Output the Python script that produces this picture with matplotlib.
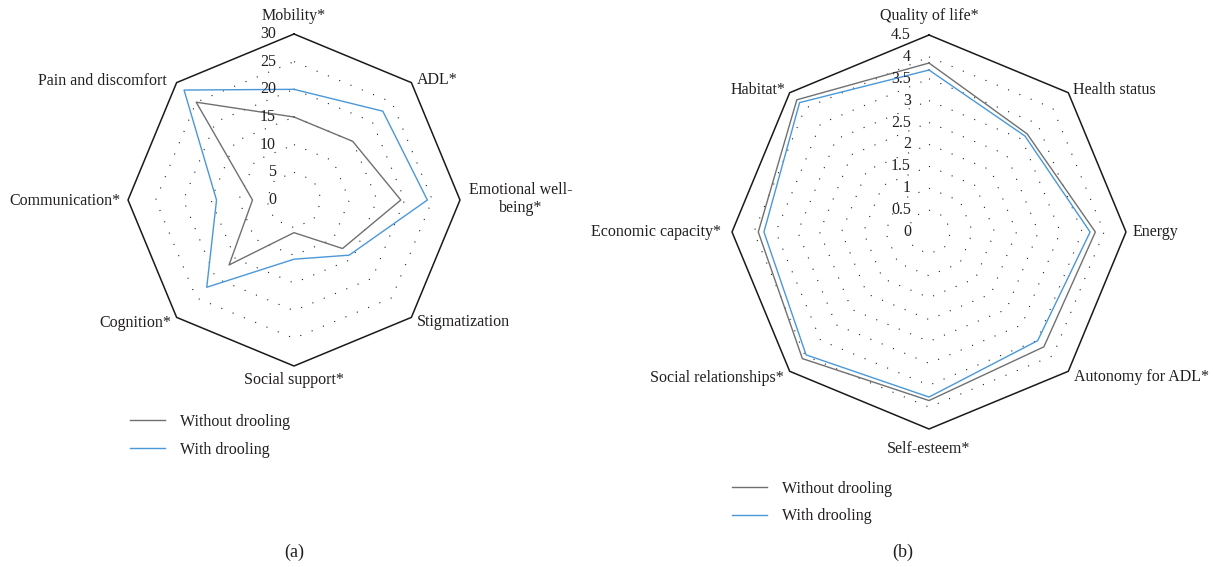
import numpy as np
import matplotlib
matplotlib.use('Agg')
import matplotlib.pyplot as plt

plt.rcParams['font.family'] = ['Liberation Serif', 'DejaVu Serif']
plt.rcParams['font.size'] = 11.5
plt.rcParams['text.color'] = '#231f20'

# (a) domains, clockwise from the top
labels_a = ['Mobility*', 'ADL*', 'Emotional well-\nbeing*', 'Stigmatization',
            'Social support*', 'Cognition*', 'Communication*', 'Pain and discomfort']
without_a = [15, 15, 19.3, 12.4, 5.9, 16.6, 7.5, 25]
with_a = [20, 22.7, 24.1, 14.1, 10.7, 22.3, 14, 28.1]
ticks_a = [0, 5, 10, 15, 20, 25, 30]

# (b) domains, clockwise from the top
labels_b = ['Quality of life*', 'Health status', 'Energy', 'Autonomy for ADL*',
            'Self-esteem*', 'Social relationships*', 'Economic capacity*', 'Habitat*']
without_b = [3.86, 3.17, 3.8, 3.71, 3.85, 4.09, 3.9, 4.27]
with_b = [3.70, 3.10, 3.68, 3.51, 3.77, 3.97, 3.77, 4.18]
ticks_b = [0, 0.5, 1, 1.5, 2, 2.5, 3, 3.5, 4, 4.5]

series_names = ['Without drooling', 'With drooling']
GRAY = '#707070'
BLUE = '#4a98d8'
W, H = 1213, 567


def xy(vals):
    vals = np.asarray(vals, dtype=float)
    th = np.arange(len(vals)) * 2 * np.pi / len(vals)
    x = vals * np.sin(th)
    y = vals * np.cos(th)
    return np.append(x, x[0]), np.append(y, y[0])


def radar(ax, labels, s1, s2, ticks, label_off):
    rmax = ticks[-1]
    n = len(labels)
    for t in ticks[1:-1]:
        x, y = xy([t] * n)
        ax.plot(x, y, color='#222222', lw=0.8, ls=(0, (1, 10)))
    x, y = xy([rmax] * n)
    ax.plot(x, y, color='#1a1a1a', lw=1.1)
    l1, = ax.plot(*xy(s1), color=GRAY, lw=1.0)
    l2, = ax.plot(*xy(s2), color=BLUE, lw=1.0)
    for t in ticks:
        ax.annotate(f'{t:g}', xy=(0, t), xytext=(-13, 0), textcoords='offset points',
                    ha='right', va='center')
    vx, vy = xy([rmax] * n)
    for i, lab in enumerate(labels):
        dx, dy, ha = label_off[i]
        ax.annotate(lab, xy=(vx[i], vy[i]), xytext=(dx * 0.72, dy * 0.72),
                    textcoords='offset points', ha=ha, va='center',
                    multialignment='center', linespacing=1.25)
    ax.axis('off')
    return l1, l2


def place_axes(fig, px0, px1, cx, cy, rpx, rmax):
    s = rpx / rmax
    ax = fig.add_axes([px0 / W, 0, (px1 - px0) / W, 1])
    ax.set_xlim((px0 - cx) / s, (px1 - cx) / s)
    ax.set_ylim((cy - H) / s, cy / s)
    return ax


fig = plt.figure(figsize=(W / 100, H / 100), dpi=100)

ax1 = place_axes(fig, 0, 600, 294, 200, 166, ticks_a[-1])
off_a = [(0, 18, 'center'), (5, 3, 'left'), (9, 1, 'left'), (5, -5, 'left'),
         (0, -14, 'center'), (-5, -6, 'right'), (-8, -1, 'right'), (-10, 2, 'right')]
h1 = radar(ax1, labels_a, without_a, with_a, ticks_a, off_a)
fig.legend(h1, series_names, loc='upper left', bbox_to_anchor=(130 / W, 1 - 414 / H),
           frameon=False, borderpad=0, borderaxespad=0, handlelength=2.2,
           handletextpad=0.9, labelspacing=0.72)

ax2 = place_axes(fig, 600, W, 929, 232, 197, ticks_b[-1])
off_b = [(0, 19, 'center'), (5, 3, 'left'), (7, 0, 'left'), (6, -6, 'left'),
         (0, -20, 'center'), (-6, -7, 'right'), (-11, 0, 'right'), (-4, 3, 'right')]
h2 = radar(ax2, labels_b, without_b, with_b, ticks_b, off_b)
fig.legend(h2, series_names, loc='upper left', bbox_to_anchor=(732 / W, 1 - 481 / H),
           frameon=False, borderpad=0, borderaxespad=0, handlelength=2.2,
           handletextpad=0.9, labelspacing=0.72)

fig.text(294 / W, 1 - 552 / H, '(a)', ha='center', va='center', fontsize=13)
fig.text(903 / W, 1 - 552 / H, '(b)', ha='center', va='center', fontsize=13)

fig.savefig('out.png', dpi=100, facecolor='white')
